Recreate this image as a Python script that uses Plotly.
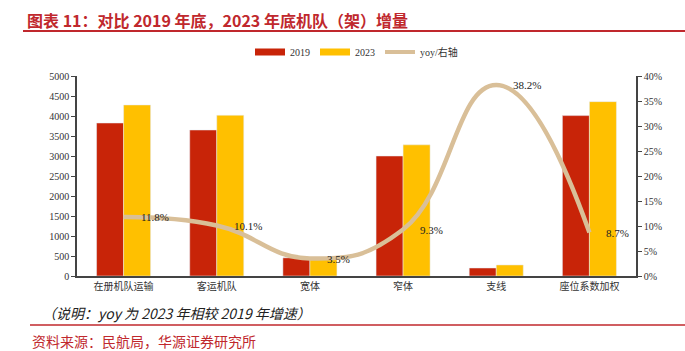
import plotly.graph_objects as go

categories = ["在册机队运输", "客运机队", "宽体", "窄体", "支线", "座位系数加权"]
fleet_2019 = [3825, 3650, 455, 3000, 200, 4010]
fleet_2023 = [4276, 4019, 471, 3279, 276, 4359]
yoy = [0.118, 0.101, 0.035, 0.093, 0.382, 0.087]
yoy_labels = ["11.8%", "10.1%", "3.5%", "9.3%", "38.2%", "8.7%"]
left_ticks = list(range(0, 5001, 500))
right_ticks = [i / 100 for i in range(0, 41, 5)]

W, H = 685, 351
L, R, T, B = 77, 49, 76, 75
PW, PH = W - L - R, H - T - B

def px(x):
    return (x - L) / PW

def py(y):
    return (H - B - y) / PH

serif = "Liberation Serif, Noto Sans CJK SC"
cjk = "Noto Sans CJK SC"
RED, YEL, TAN = "#C82408", "#FFC000", "#D9BF98"

fig = go.Figure()
fig.add_trace(go.Bar(x=categories, y=fleet_2019, name="2019", marker_color=RED, showlegend=False))
fig.add_trace(go.Bar(x=categories, y=fleet_2023, name="2023", marker_color=YEL, showlegend=False))
fig.add_trace(go.Scatter(x=categories, y=yoy, name="yoy/右轴", yaxis="y2", showlegend=False,
                         mode="lines", line=dict(color=TAN, width=4.5, shape="spline", smoothing=1.3)))
# legend entries (wide rectangle swatches like the reference)
for nm, col, w in [("2019", RED, 7), ("2023", YEL, 7), ("yoy/右轴", TAN, 4)]:
    fig.add_trace(go.Scatter(x=[None], y=[None], name=nm, mode="lines", line=dict(color=col, width=w)))

for c, v, t in zip(categories, yoy, yoy_labels):
    fig.add_annotation(x=c, y=v, yref="y2", text=t, showarrow=False, xanchor="left", yanchor="middle",
                       xshift=15, font=dict(family=serif, size=11, color="#222"))

fig.update_layout(
    width=W, height=H, margin=dict(l=L, r=R, t=T, b=B),
    plot_bgcolor="white", paper_bgcolor="white",
    barmode="group", bargap=0.42, bargroupgap=0,
    font=dict(family=serif, size=10, color="#333"),
    xaxis=dict(showline=True, linecolor="#444", linewidth=1.5, ticks="", showgrid=False,
               tickfont=dict(family=cjk, size=10, color="#333")),
    yaxis=dict(range=[0, 5000], tickvals=left_ticks, showline=True, linecolor="#444", linewidth=1.5,
               ticks="outside", ticklen=4, tickcolor="#444", showgrid=False, zeroline=False,
               tickfont=dict(family=serif, size=10)),
    yaxis2=dict(range=[0, 0.40], tickvals=right_ticks, tickformat=".0%", overlaying="y", side="right",
                showline=True, linecolor="#444", linewidth=1.5, ticks="outside", ticklen=4, tickcolor="#444",
                showgrid=False, zeroline=False, tickfont=dict(family=serif, size=10)),
    legend=dict(orientation="h", x=0.5, xanchor="center", y=py(52), yanchor="middle",
                font=dict(family=serif, size=10), itemwidth=30, tracegroupgap=0),
    showlegend=True,
)

fig.add_annotation(text="<b>图表 11：对比 2019 年底，2023 年底机队（架）增量</b>", xref="paper", yref="paper",
                   x=px(25), y=py(20), xanchor="left", yanchor="middle", showarrow=False,
                   font=dict(family=cjk, size=16, color="#C0282D"))
fig.add_shape(type="line", xref="paper", yref="paper", x0=px(23), x1=px(685), y0=py(31), y1=py(31),
              line=dict(color="#C0282D", width=2))
fig.add_annotation(text="<i>（说明：yoy 为 2023 年相较 2019 年增速）</i>", xref="paper", yref="paper",
                   x=px(40), y=py(313), xanchor="left", yanchor="middle", showarrow=False,
                   font=dict(family=cjk, size=14, color="#222"))
fig.add_shape(type="line", xref="paper", yref="paper", x0=px(30), x1=px(685), y0=py(325), y1=py(325),
              line=dict(color="#C0282D", width=1.5))
fig.add_annotation(text="资料来源：民航局，华源证券研究所", xref="paper", yref="paper",
                   x=px(30), y=py(341), xanchor="left", yanchor="middle", showarrow=False,
                   font=dict(family=cjk, size=14, color="#C0282D"))

fig.write_html("out.html")
